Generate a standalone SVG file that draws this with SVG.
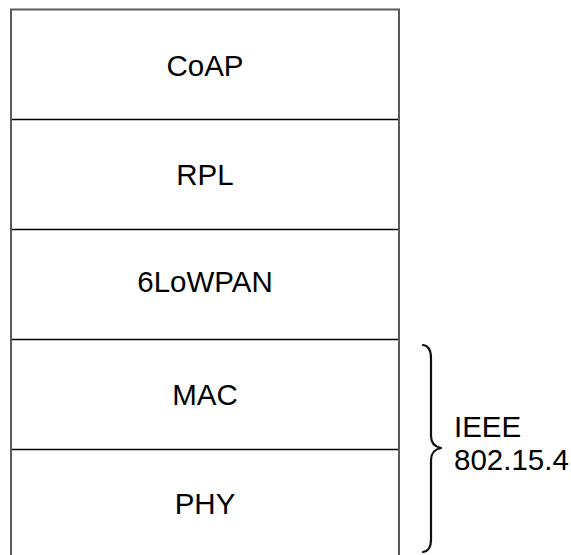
<svg xmlns="http://www.w3.org/2000/svg" width="571" height="555" viewBox="0 0 571 555">
  <style>
    .frame { fill: #ffffff; stroke: #5a5a5a; stroke-width: 2; }
    .divider { stroke: #000000; stroke-width: 1.3; fill: none; }
    .label { font-family: "Liberation Sans", Arial, Helvetica, sans-serif; font-size: 29.5px; fill: #000000; }
    .brace { fill: none; stroke: #111111; stroke-width: 2.2; stroke-linecap: round; stroke-linejoin: round; }
  </style>
  <rect x="0" y="0" width="571" height="555" fill="#ffffff"/>

  <!-- protocol stack frame (open at the bottom edge) -->
  <rect class="frame" x="11" y="9.5" width="388" height="560"/>

  <g id="layer-coap">
    <text class="label" x="205" y="76" text-anchor="middle">CoAP</text>
  </g>
  <g id="layer-rpl">
    <line class="divider" x1="12" y1="119.5" x2="398" y2="119.5"/>
    <text class="label" x="205" y="185" text-anchor="middle">RPL</text>
  </g>
  <g id="layer-6lowpan">
    <line class="divider" x1="12" y1="229.5" x2="398" y2="229.5"/>
    <text class="label" x="205" y="292" text-anchor="middle">6LoWPAN</text>
  </g>
  <g id="layer-mac">
    <line class="divider" x1="12" y1="339.5" x2="398" y2="339.5"/>
    <text class="label" x="205" y="405" text-anchor="middle">MAC</text>
  </g>
  <g id="layer-phy">
    <line class="divider" x1="12" y1="449.5" x2="398" y2="449.5"/>
    <text class="label" x="205" y="514" text-anchor="middle">PHY</text>
  </g>

  <!-- brace grouping MAC and PHY -->
  <g id="ieee-802-15-4">
    <path class="brace" d="M423,345 Q431,346 431,358 L431,436 Q431,446 441,448 Q431,450 431,460 L431,540 Q431,551 423,552"/>
    <text class="label" x="454" y="437">IEEE</text>
    <text class="label" x="454" y="470">802.15.4</text>
  </g>
</svg>
